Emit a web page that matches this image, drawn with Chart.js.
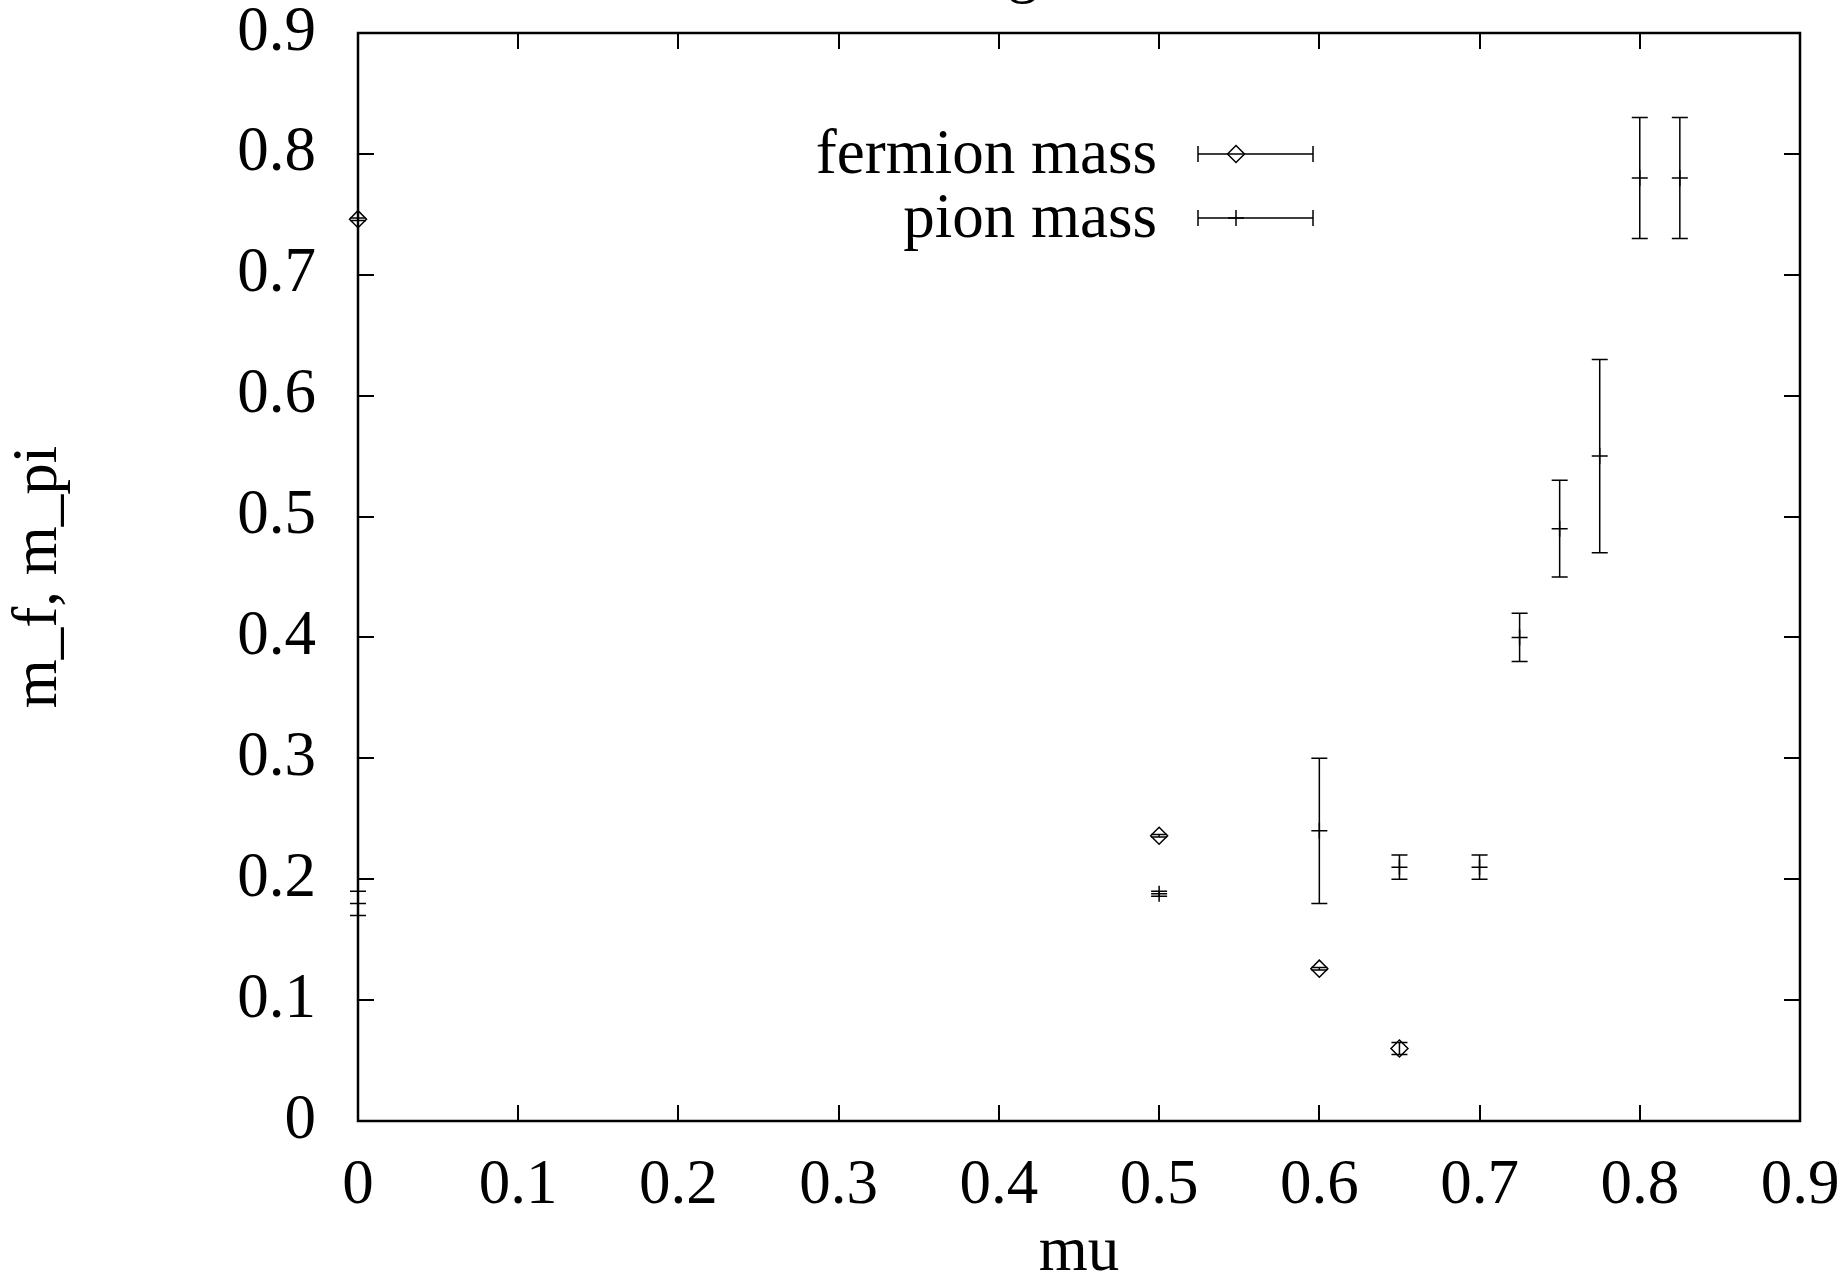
<!DOCTYPE html>
<html>
<head>
<meta charset="utf-8">
<script src="https://cdn.jsdelivr.net/npm/chart.js@4/dist/chart.umd.min.js"></script>
<style>
  html, body { margin: 0; padding: 0; background: #fff; }
  #wrap { width: 1848px; height: 1276px; }
</style>
</head>
<body>
<div id="wrap"><canvas id="chart" width="1848" height="1276"></canvas></div>
<script>
// values
const muFermion = [0, 0.5, 0.6, 0.65];
const mFermion = [0.746, 0.236, 0.126, 0.060];
const errFermion = [0.001, 0.001, 0.001, 0.005];

const muPion = [0, 0.5, 0.6, 0.65, 0.7, 0.725, 0.75, 0.775, 0.8, 0.825];
const mPion = [0.180, 0.188, 0.240, 0.210, 0.210, 0.400, 0.490, 0.550, 0.780, 0.780];
const errPion = [0.010, 0.002, 0.060, 0.010, 0.010, 0.020, 0.040, 0.080, 0.050, 0.050];

const seriesLabels = ['fermion mass', 'pion mass'];
const axisMin = 0;
const axisMax = 0.9;
const axisStep = 0.1;
const xTitle = 'mu';
const yTitle = 'm_f, m_pi';
const titleText = 'g'; // only the descender of the title is visible at the top edge

const FONT = "'Liberation Serif', 'Times New Roman', serif";
const FSIZE = 63;

var toPoints = function (xs, ys, es) {
  return xs.map((x, i) => ({ x: x, y: ys[i], err: es[i] }));
};

// gnuplot style frame with inward ticks on all four sides
const framePlugin = {
  id: 'frame',
  beforeDatasetsDraw(chart) {
    const ctx = chart.ctx;
    const a = chart.chartArea;
    const xs = chart.scales.x;
    const ys = chart.scales.y;
    const tl = 16;
    ctx.save();
    ctx.strokeStyle = '#000';
    ctx.lineWidth = 2;
    ctx.beginPath();
    xs.ticks.forEach(t => {
      const px = Math.round(xs.getPixelForValue(t.value));
      ctx.moveTo(px, a.bottom); ctx.lineTo(px, a.bottom - tl);
      ctx.moveTo(px, a.top); ctx.lineTo(px, a.top + tl);
    });
    ys.ticks.forEach(t => {
      const py = Math.round(ys.getPixelForValue(t.value));
      ctx.moveTo(a.left, py); ctx.lineTo(a.left + tl, py);
      ctx.moveTo(a.right, py); ctx.lineTo(a.right - tl, py);
    });
    ctx.stroke();
    ctx.lineWidth = 2.5;
    ctx.strokeRect(a.left, a.top, a.right - a.left, a.bottom - a.top);

    // title fragment
    ctx.fillStyle = '#000';
    ctx.font = FSIZE + 'px ' + FONT;
    ctx.textAlign = 'center';
    ctx.textBaseline = 'alphabetic';
    ctx.fillText(titleText, 1023, -10);
    ctx.restore();
  }
};

// vertical error bars with caps
const errorBarPlugin = {
  id: 'errorBars',
  beforeDatasetsDraw(chart) {
    const ctx = chart.ctx;
    const xs = chart.scales.x;
    const ys = chart.scales.y;
    const cap = 8;
    ctx.save();
    ctx.strokeStyle = '#000';
    ctx.lineWidth = 1.5;
    chart.data.datasets.forEach(ds => {
      ctx.beginPath();
      ds.data.forEach(p => {
        const px = xs.getPixelForValue(p.x);
        const lo = ys.getPixelForValue(p.y - p.err);
        const hi = ys.getPixelForValue(p.y + p.err);
        ctx.moveTo(px, lo); ctx.lineTo(px, hi);
        ctx.moveTo(px - cap, lo); ctx.lineTo(px + cap, lo);
        ctx.moveTo(px - cap, hi); ctx.lineTo(px + cap, hi);
      });
      ctx.stroke();
    });
    ctx.restore();
  }
};

// key in the upper middle: text right aligned, then errorbar sample
const keyPlugin = {
  id: 'key',
  afterDatasetsDraw(chart) {
    const ctx = chart.ctx;
    const rows = [154, 218];
    const textRight = 1157;
    const x0 = 1198, x1 = 1313, xm = 1236, cap = 8;
    ctx.save();
    ctx.font = FSIZE + 'px ' + FONT;
    ctx.textAlign = 'right';
    ctx.textBaseline = 'middle';
    chart.data.datasets.forEach((ds, i) => {
      const y = rows[i];
      ctx.fillStyle = '#000';
      ctx.strokeStyle = '#000';
      ctx.fillText(ds.label, textRight, y + 2);
      ctx.lineWidth = 1.5;
      ctx.beginPath();
      ctx.moveTo(x0, y); ctx.lineTo(x1, y);
      ctx.moveTo(x0, y - cap); ctx.lineTo(x0, y + cap);
      ctx.moveTo(x1, y - cap); ctx.lineTo(x1, y + cap);
      ctx.stroke();
      ctx.fillStyle = 'rgba(0,0,0,0)';
      Chart.helpers.drawPoint(ctx, {
        pointStyle: ds.pointStyle,
        radius: ds.pointRadius,
        borderWidth: ds.borderWidth
      }, xm, y);
    });
    ctx.restore();
  }
};

new Chart(document.getElementById('chart').getContext('2d'), {
  type: 'scatter',
  data: {
    datasets: [
      {
        label: seriesLabels[0],
        data: toPoints(muFermion, mFermion, errFermion),
        pointStyle: 'rectRot',
        pointRadius: 8.5,
        borderWidth: 1.5,
        borderColor: '#000',
        backgroundColor: 'rgba(0,0,0,0)',
        clip: false
      },
      {
        label: seriesLabels[1],
        data: toPoints(muPion, mPion, errPion),
        pointStyle: 'cross',
        pointRadius: 8,
        borderWidth: 1.5,
        borderColor: '#000',
        backgroundColor: 'rgba(0,0,0,0)',
        clip: false
      }
    ]
  },
  options: {
    responsive: false,
    devicePixelRatio: 1,
    animation: false,
    events: [],
    layout: {
      autoPadding: false,
      padding: { left: 0, top: 33, right: 48, bottom: 0 }
    },
    scales: {
      x: {
        type: 'linear',
        min: axisMin,
        max: axisMax,
        grid: { display: false, drawTicks: false },
        border: { display: false },
        ticks: {
          stepSize: axisStep,
          padding: 34,
          color: '#000',
          maxRotation: 0,
          font: { family: FONT, size: FSIZE, lineHeight: 1 },
          callback: v => String(+v.toFixed(1))
        },
        title: {
          display: true,
          text: xTitle,
          color: '#000',
          font: { family: FONT, size: FSIZE, lineHeight: 1 },
          padding: { top: 0, bottom: -9 }
        },
        afterFit: function (scale) {
          scale.height = 155;
          scale.paddingLeft = 0; scale.paddingRight = 0;
        }
      },
      y: {
        type: 'linear',
        min: axisMin,
        max: axisMax,
        grid: { display: false, drawTicks: false },
        border: { display: false },
        ticks: {
          stepSize: axisStep,
          padding: 42,
          color: '#000',
          font: { family: FONT, size: FSIZE, lineHeight: 1 },
          callback: v => String(+v.toFixed(1))
        },
        title: {
          display: true,
          text: yTitle,
          color: '#000',
          font: { family: FONT, size: FSIZE, lineHeight: 1 },
          padding: { top: 8, bottom: 0 }
        },
        afterFit: function (scale) {
          scale.width = 358;
          scale.paddingTop = 0; scale.paddingBottom = 0;
        }
      }
    },
    plugins: {
      legend: { display: false },
      tooltip: { enabled: false },
      title: { display: false }
    }
  },
  plugins: [framePlugin, errorBarPlugin, keyPlugin]
});
</script>
</body>
</html>
